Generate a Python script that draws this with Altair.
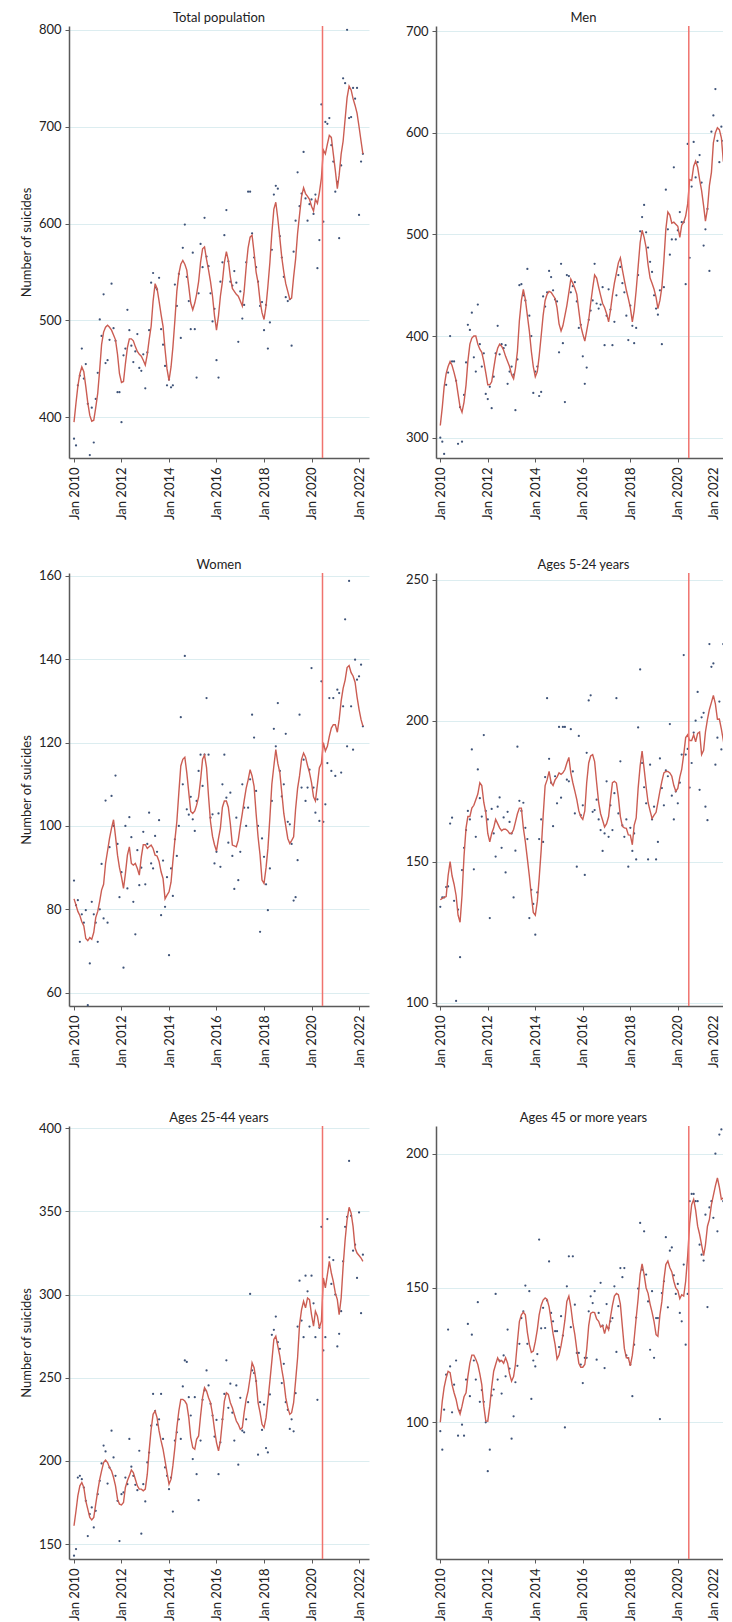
import altair as alt
import pandas as pd

# Monthly series, Jan 2010 .. Mar 2022 (147 months)
MONTHS = pd.date_range("2010-01-01", periods=147, freq="MS")
TICK_YEARS = [2010, 2012, 2014, 2016, 2018, 2020, 2022]
BREAK_DATE = "2020-06-18"

total_line = [
    395, 415, 432, 445, 452, 447, 432, 415, 402, 396, 397, 410,
    425, 450, 475, 488, 493, 495, 493, 490, 485, 480, 465, 445,
    436, 437, 455, 472, 481, 481, 479, 473, 468, 465, 463, 459,
    454, 465, 480, 494, 520, 538, 533, 520, 506, 494, 470, 450,
    438, 452, 472, 500, 530, 548, 558, 562, 558, 552, 535, 518,
    511, 518, 527, 540, 560, 574, 576, 563, 552, 540, 525, 505,
    490, 505, 525, 540, 560, 571, 562, 545, 533, 530, 527, 525,
    520, 515, 530, 555, 575, 586, 588, 570, 550, 539, 520, 508,
    501, 515, 535, 560, 590, 615, 622, 605, 585, 565, 550, 538,
    530, 522, 523, 545, 563, 590, 609, 628, 637, 631, 628, 625,
    618, 613, 625, 621, 632, 647, 676, 672, 682, 691, 689, 672,
    655, 636, 650, 672, 685, 708, 730, 742, 738, 729, 722, 714,
    700, 685, 672,
]
total_pts = [
    378, 371, 433, 443, 471, 440, 455, 414, 361, 410, 374, 419,
    446, 501, 484, 527, 456, 459, 480, 538, 492, 479, 426, 426,
    395, 464, 471, 511, 490, 474, 457, 468, 486, 451, 448, 465,
    430, 467, 490, 539, 549, 534, 532, 544, 491, 475, 453, 433,
    439, 431, 433, 537, 515, 548, 482, 575, 599, 545, 520, 491,
    570, 491, 441, 528, 579, 555, 606, 566, 556, 528, 499, 512,
    459, 441, 540, 560, 588, 614, 561, 540, 536, 551, 539, 478,
    530, 502, 516, 560, 633, 633, 590, 565, 555, 540, 515, 519,
    490, 516, 471, 498, 573, 630, 639, 636, 587, 565, 545, 524,
    520, 522, 474, 571, 603, 653, 618, 631, 674, 626, 603, 620,
    625, 610, 630, 554, 583, 723, 602, 705, 703, 709, 681, 664,
    633, 643, 585, 660, 750, 745, 800, 709, 710, 740, 729, 740,
    609, 664, 672,
]

men_line = [
    312, 330, 350, 363, 370, 375, 371, 364, 356, 343, 330, 325,
    335, 352, 375, 392, 398, 400, 400, 392, 387, 384, 375, 364,
    352, 352, 355, 368, 380, 388, 392, 390, 386, 380, 375, 370,
    362, 358, 368, 385, 415, 435, 446, 436, 420, 405, 385, 370,
    360, 365, 380, 400, 420, 435, 441, 444, 443, 440, 437, 428,
    412, 405, 410, 420, 430, 443, 456, 452, 447, 441, 425, 410,
    402, 395, 405, 416, 432, 447, 460, 457, 448, 440, 432, 428,
    422, 414, 425, 440, 452, 462, 472, 477, 465, 455, 445, 437,
    428, 414, 425, 445, 468, 492, 504, 497, 487, 470, 457, 452,
    446, 438, 427, 435, 448, 474, 505, 522, 519, 511, 512, 510,
    508, 497, 509, 512, 518, 530, 554, 553, 567, 572, 566, 554,
    543, 528, 513, 525, 548, 561, 590, 600, 605, 603, 595, 572,
    567, 563, 555,
]
men_pts = [
    300, 296, 284, 352, 364, 400, 375, 375, 356, 294, 330, 296,
    342, 374, 411, 406, 423, 379, 365, 431, 392, 370, 383, 343,
    338, 350, 329, 360, 383, 410, 382, 392, 388, 391, 353, 365,
    370, 362, 327, 377, 450, 451, 440, 435, 466, 420, 400, 344,
    365, 370, 341, 345, 439, 429, 443, 464, 458, 445, 436, 434,
    384, 471, 393, 335, 460, 459, 443, 449, 453, 434, 408, 411,
    380, 353, 369, 416, 425, 435, 471, 432, 427, 431, 448, 391,
    420, 446, 426, 391, 414, 440, 460, 468, 452, 443, 420, 396,
    430, 410, 393, 408, 460, 503, 517, 529, 502, 487, 473, 463,
    440, 427, 421, 445, 392, 448, 544, 505, 480, 495, 566, 495,
    504, 522, 512, 512, 451, 589, 477, 547, 591, 556, 571, 578,
    551, 489, 505, 525, 464, 601, 617, 643, 592, 571, 606, 592,
    602, 486, 560,
]

women_line = [
    82.5, 81, 79.5, 78.5, 77, 76, 73, 72.5, 73.2, 72.8, 74.5, 78,
    79.5, 82, 84.6, 86, 91, 94, 97, 99.5, 101.5, 97.5, 93, 90,
    87.8, 85, 88.5, 93, 95, 91, 90.6, 91, 89.8, 88.2, 92.6, 95.5,
    95.5, 94.6, 95, 95.4, 94.6, 93, 92.8, 91.5, 89, 87.4, 82.5, 83.4,
    84.2, 86.5, 91.5, 96.6, 101, 108, 114.4, 116, 116.5, 112.8, 108, 103.5,
    103, 103.6, 105, 107, 111, 116, 117, 114, 107, 101, 97.5, 95.5,
    94, 97, 99.5, 104.5, 106, 106, 104.5, 100.5, 95.4, 95.2, 95, 96.6,
    100, 103, 106, 109, 111, 113.5, 112, 109.5, 103, 97.4, 93, 87,
    86.2, 90, 94.5, 102, 110, 114.4, 118.3, 115, 112.8, 108, 103, 100,
    97, 95.8, 96.5, 97.4, 104, 109, 112, 116, 117.5, 116.5, 114.5, 112.8,
    110.4, 107, 106, 110, 114, 115, 120, 118, 119.1, 121.5, 123.5, 124.3,
    124.3, 122.5, 125.5, 130, 133, 135, 138, 138.5, 136.8, 136, 134.5, 131,
    128, 125.5, 124,
]
women_pts = [
    86.9, 81, 82.2, 72.2, 78.8, 76.8, 79.8, 57, 67, 81.8, 78.8, 76.8,
    72.2, 80, 90.9, 77.8, 106.1, 76.8, 94.9, 107.2, 100, 112.1, 95.7, 82.9,
    88.9, 66, 100, 85, 102.1, 97.3, 81.8, 74, 94.2, 85.8, 90, 98.6,
    86, 95.7, 103.2, 91, 89.8, 97.6, 93.8, 101.4, 78.6, 91.7, 80.6, 87.7,
    69, 89.8, 83.2, 96.8, 92.8, 100, 126.1, 110, 140.8, 104, 102.7, 107,
    101.6, 98.8, 106, 113.2, 117.1, 109.6, 117.1, 130.7, 117.1, 102, 102.8, 91,
    93.8, 103, 90.2, 110, 117.1, 106.8, 96, 108, 92.8, 84.9, 102, 87,
    93.8, 110, 104.4, 100, 104.4, 111.2, 126.7, 121.2, 108.4, 100, 74.6, 97,
    92.6, 86, 79.8, 89.8, 106, 123.3, 119.1, 129.5, 113.2, 107.1, 110, 122.1,
    101, 100.4, 95.7, 82.1, 82.9, 91.8, 126.7, 109.2, 115.9, 106, 109.2, 113.5,
    137.9, 109.2, 103.2, 106.4, 101.2, 134.7, 101, 105.2, 115.1, 130.7, 113.2, 130.7,
    112, 132.7, 131.9, 112.8, 128.7, 149.6, 119.1, 158.8, 128.7, 118.3, 139.9, 135.1,
    135.9, 138.7, 123.9,
]

age5_line = [
    136.5, 137, 137.3, 137.6, 145, 150, 145, 142, 138, 131, 128.5, 138,
    152, 162, 166, 166, 169, 170, 172, 174, 178, 177, 171, 167.5,
    160, 157, 160, 162, 165, 163.5, 162, 161, 161.5, 161.5, 161, 160,
    160, 161.4, 164, 167, 169, 169, 162, 157, 151, 145, 138, 132,
    131, 136, 144, 154, 166, 177, 179, 182, 178, 177, 179, 180,
    181.5, 181, 181.5, 182.7, 185, 187, 181.5, 178, 175, 172, 168, 166,
    165, 168, 178, 185, 187.5, 188, 185.5, 178, 171, 167, 164.7, 162.3,
    163.5, 166, 172, 178, 178.5, 177.9, 173, 166, 162.5, 162, 161.8, 159.5,
    159.4, 156, 162.9, 165.5, 176, 184, 189.2, 183, 176.5, 171, 168, 165.3,
    166.5, 167.5, 171, 175, 178.5, 181.5, 182, 182, 181.5, 180.3, 177, 175,
    176, 180, 182.7, 188, 194, 195, 193, 193, 195, 192.5, 195.5, 196,
    188, 189.5, 196, 200.5, 204, 206.5, 209, 206, 200.5, 200.6, 197, 193,
    188.6, 184, 182,
]
age5_pts = [
    134, 137.3, 137.3, 141, 141.2, 163.5, 165.6, 136.1, 100.6, 133, 116.1, 147,
    154.9, 161.2, 168, 165, 189.8, 147.3, 158.8, 182.7, 172.5, 166, 194.9, 168,
    165, 130, 168.7, 160, 151.8, 169.5, 172.8, 154.9, 165.7, 146.2, 167.7, 164.1,
    160, 137.3, 153.9, 190.8, 171.6, 168, 170.9, 162, 158, 130, 140, 135,
    124.1, 139.1, 158, 165, 157, 180, 208, 186.5, 178, 162.6, 180.3, 170.7,
    197.8, 172.7, 197.8, 197.8, 179.1, 178.5, 197, 182, 167.1, 148.2, 194.6, 166.5,
    170, 145.3, 188.6, 207.2, 209, 167.7, 168.3, 172, 165, 161.2, 153.8, 160,
    178.5, 158.8, 170, 161.2, 174.3, 208, 167.1, 185.6, 162.9, 158.8, 165, 148.2,
    162, 153.8, 160, 150.8, 197.6, 218.2, 185, 176.4, 170.7, 150.8, 184.4, 165,
    169.5, 150.8, 157, 186.6, 176.1, 170, 182.4, 180.3, 198.8, 173.4, 165, 174.9,
    170.7, 178, 188, 223.3, 188, 190, 176.3, 185, 195.8, 200, 210.2, 175.5,
    201.2, 202.8, 169.5, 164.7, 227.2, 219.1, 220.3, 184.4, 194, 206.8, 189.8, 227.2,
    180, 163.5, 158,
]

age25_line = [
    161, 170, 179, 185, 187, 184, 176, 171, 166, 164.5, 166, 174,
    182, 189, 194, 199, 200.5, 199, 196, 194, 190, 185, 177, 174,
    173.5, 175, 184, 188, 191, 194.5, 193, 189, 185, 183, 183, 182,
    183, 192, 206, 219, 228, 230, 226, 218, 212, 207, 200, 193,
    186, 189, 197, 208, 220, 230, 237, 237, 236, 234, 226, 214,
    208, 207, 213, 215, 227, 238, 244, 242, 238, 235, 228, 219,
    211, 206, 212, 224, 236, 241, 240, 235, 232, 228, 224, 222,
    219, 220, 229, 237, 242, 250, 259, 256, 248, 235, 229, 222,
    220, 226, 236, 248, 260, 273, 275, 269, 263, 255, 248, 238,
    232, 228, 229, 235, 248, 262, 282, 291, 296, 292, 298, 297,
    288, 281, 290, 287, 280, 284, 310, 304, 312, 320, 313, 308,
    301, 297, 288, 298, 317, 333, 345, 352.5, 349, 341, 328, 325,
    323.5, 322, 320,
]
age25_pts = [
    143, 147, 190, 191, 189, 184, 176, 154.8, 168, 172, 160, 170,
    180, 188, 198.5, 209.2, 205.7, 186.4, 196, 218.2, 202.1, 191, 176, 151.8,
    180, 181, 190, 186, 213.2, 196.5, 191, 185.6, 182.4, 206.1, 156.2, 186,
    175.6, 199.1, 205, 221.2, 240.3, 230, 221.8, 225, 240.3, 213.2, 196.1, 191,
    183, 190, 169.5, 212.2, 217.2, 225, 213.2, 244.8, 260.4, 259.5, 238.3, 227.3,
    201.1, 238.3, 192, 176.4, 212.2, 236.7, 242.4, 254.4, 245.4, 234.3, 227.3, 214.6,
    224.6, 192, 211.2, 225, 240.3, 260.5, 231.9, 246.4, 229, 212.2, 245.4, 197.7,
    237.9, 218.2, 217.2, 225, 235.3, 300.4, 254.4, 252.8, 248, 203.7, 235.3, 218.6,
    233.9, 207.7, 205.1, 240, 275.8, 278.8, 286.8, 271.4, 267.4, 246.8, 258.4, 235.3,
    230.7, 219.2, 225, 217.8, 240.7, 280.8, 308.4, 284.4, 274.4, 311.4, 302, 280.8,
    311.4, 294.8, 274.4, 236.7, 280, 340.8, 266.4, 274.4, 345.4, 322.4, 306.4, 320.8,
    300, 268.8, 276.4, 290, 320, 340.8, 346.8, 380.4, 347.4, 326.4, 330, 310,
    349.4, 288.8, 324,
]

age45_line = [
    100, 108, 113, 116.5, 119, 118.5, 114, 111, 108.5, 105, 103, 106,
    109.5, 111, 117, 122, 125, 125, 123.5, 121.5, 118, 114, 106, 100.5,
    100.4, 106, 113, 119, 121.5, 124, 122.5, 123, 122, 124, 122, 118,
    115.3, 117, 121.5, 130, 137.5, 140, 141, 140, 133.5, 129, 126, 126.5,
    130, 134.5, 140, 143.5, 145.5, 146.3, 145.7, 143, 138, 133, 129, 123.5,
    125, 128.5, 132.5, 138, 145, 147, 143, 137, 132.6, 127, 122, 120.5,
    120.5, 121.5, 127, 136, 140.5, 141, 140.8, 138.5, 137.6, 135.5, 136, 133,
    136, 134.5, 139, 143.5, 147, 148, 147.5, 144, 135.5, 127.5, 124, 124,
    121, 125, 131, 138.8, 146, 155, 159, 155, 150, 148, 144, 141,
    137.5, 132.6, 132, 140, 145, 153, 158.7, 160, 157.5, 156, 152.5, 150,
    149, 146, 147.5, 147, 152.5, 162, 174, 181, 183, 179, 173, 170,
    166, 162, 166, 173, 175.5, 181, 184.5, 188, 191, 187.5, 183, 183.5,
    182, 177.5, 168.6,
]
age45_pts = [
    96.7, 89.8, 104.7, 117.7, 134.5, 120.8, 103.7, 114, 123, 95, 104.3, 99.1,
    95, 115.9, 136.6, 109.7, 132.6, 123, 115.9, 144.7, 107.6, 112, 107.6, 100,
    81.8, 89.8, 110, 112.2, 147.8, 115.9, 123, 110.7, 124.9, 117.1, 134.5, 120,
    93.9, 102.2, 114.9, 121, 129.2, 138.8, 141.3, 150.9, 129.2, 148.8, 108.7, 123,
    120.8, 125.4, 168, 135, 142.6, 135.1, 145.3, 159.9, 140.7, 137.6, 133.9, 133.9,
    128, 139.5, 132.3, 98.1, 150.6, 161.8, 135.4, 161.8, 143.8, 125.8, 125.8, 121.5,
    114.6, 124, 124, 141.3, 146.9, 144.4, 148.8, 123.3, 140.7, 151.9, 136, 120.2,
    144, 135.1, 137.6, 138.8, 150.6, 126.2, 143.2, 157.4, 154, 157.4, 124.9, 123.9,
    121.5, 109.7, 128.9, 139, 149.8, 174.2, 156.8, 171.1, 155, 145, 127, 148.8,
    124, 138.8, 138.8, 101.2, 148.1, 152.5, 168.9, 142.8, 163.9, 165.1, 154.7, 147.8,
    151.5, 140.7, 137.6, 158.7, 128.9, 147.8, 182.3, 185, 185, 182.3, 182.3, 166.1,
    162.4, 160.2, 177.3, 142.9, 180, 182.3, 176.1, 200, 171.1, 207.1, 209, 182.3,
    165.9, 156, 182.9,
]

titles = ["Total population", "Men", "Women", "Ages 5-24 years",
          "Ages 25-44 years", "Ages 45 or more years"]
y_domains = [[358, 804], [280, 705], [56.8, 160.7], [98.8, 252.4],
             [141, 401.4], [49.1, 210.3]]
y_ticks = [[400, 500, 600, 700, 800], [300, 400, 500, 600, 700],
           [60, 80, 100, 120, 140, 160], [100, 150, 200, 250],
           [150, 200, 250, 300, 350, 400], [100, 150, 200]]
line_series = [total_line, men_line, women_line, age5_line, age25_line, age45_line]
point_series = [total_pts, men_pts, women_pts, age5_pts, age25_pts, age45_pts]

POINT_COLOR = "#3e5378"
LINE_COLOR = "#cb5d53"
VLINE_COLOR = "#f0736e"
GRID_COLOR = "#dcedf0"
AXIS_COLOR = "#5a5a5a"
FONT = "Lato"


def make_panel(i, height):
    left = (i % 2 == 0)
    df = pd.DataFrame({"date": MONTHS, "line": line_series[i], "pts": point_series[i]})
    tick_vals = [alt.DateTime(year=y, month=1, date=1) for y in TICK_YEARS]
    if left:
        xdom = [alt.DateTime(year=2009, month=10, date=16),
                alt.DateTime(year=2022, month=6, date=3)]
        width = 300
        xaxis = alt.Axis(values=tick_vals, format="%b %Y", labelAngle=-90,
                         title=None, grid=False, labelPadding=5)
    else:
        xdom = [alt.DateTime(year=2009, month=10, date=27),
                alt.DateTime(year=2022, month=3, date=29)]
        width = 295
        # last label sits at the page edge: nudge it inward so it stays readable
        xaxis = alt.Axis(
            values=tick_vals, format="%b %Y", labelAngle=-90, title=None,
            grid=False, labelPadding=5,
            labelOffset={"condition": {"test": "year(datum.value) >= 2022", "value": -12},
                         "value": 0},
        )
    xenc = alt.X("date:T", scale=alt.Scale(domain=xdom), axis=xaxis)
    yscale = alt.Scale(domain=y_domains[i], nice=False, zero=False)
    if left:
        yaxis = alt.Axis(values=y_ticks[i], title="Number of suicides", grid=True,
                         titlePadding=5)
    else:
        yaxis = alt.Axis(values=y_ticks[i], title=None, grid=True)
    base = alt.Chart(df)
    pts = base.mark_circle(size=5, color=POINT_COLOR, opacity=1).encode(
        x=xenc, y=alt.Y("pts:Q", scale=yscale, axis=yaxis))
    ln = base.mark_line(color=LINE_COLOR, strokeWidth=1.4).encode(
        x=xenc, y=alt.Y("line:Q", scale=yscale, axis=yaxis))
    vl = alt.Chart(pd.DataFrame({"date": [pd.Timestamp(BREAK_DATE)]})).mark_rule(
        color=VLINE_COLOR, strokeWidth=1.5).encode(x=xenc)
    ttl = alt.Chart(pd.DataFrame({"t": [titles[i]]})).mark_text(
        font=FONT, fontSize=13, color="#222", align="center", baseline="middle"
    ).encode(text="t:N", x=alt.value(width / 2), y=alt.value(-8))
    return alt.layer(pts, ln, vl, ttl).properties(width=width, height=height)


row1 = alt.hconcat(make_panel(0, 432), make_panel(1, 432), spacing=36)
row2 = alt.hconcat(make_panel(2, 433), make_panel(3, 433), spacing=36)
row3 = alt.hconcat(make_panel(4, 433), make_panel(5, 433), spacing=36)

# The right-hand column runs off the page edge, as in the source figure:
# a negative right padding clips it so the page keeps its width.
chart = alt.vconcat(
    row1, alt.vconcat(row2, row3, spacing=44), spacing=39
).properties(
    padding={"left": 12, "top": 4, "right": -9, "bottom": 0}
).configure_view(stroke=None).configure_axis(
    labelFont=FONT, labelFontSize=13, labelColor="#222",
    titleFont=FONT, titleFontSize=13, titleFontWeight="normal", titleColor="#222",
    domainColor=AXIS_COLOR, domainWidth=1.5, tickColor=AXIS_COLOR, tickSize=4,
    labelPadding=4, gridColor=GRID_COLOR, gridWidth=1,
)

chart.save("out.html", embed_options={"renderer": "svg", "actions": False})
